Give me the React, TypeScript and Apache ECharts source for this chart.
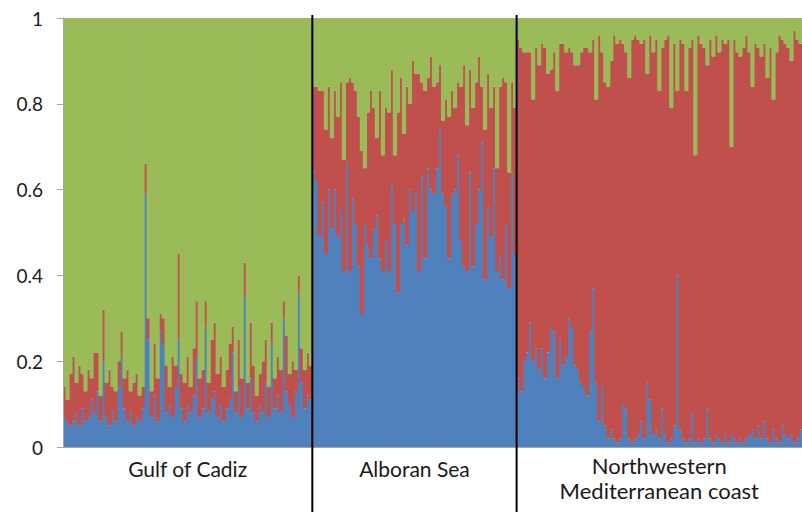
import React, { useEffect, useRef } from "react";
import * as echarts from "echarts";

// Population names (x-axis group labels)
const populations = ["Gulf of Cadiz", "Alboran Sea", "Northwestern\nMediterranean coast"];

// Membership coefficients (percent) per individual; green cluster = remainder
const gulfBlue = [
  7, 6, 5, 6, 8, 5, 9, 6, 7, 11,
  8, 13, 6, 20, 7, 5, 8, 6, 14, 21,
  9, 6, 8, 5, 7, 6, 9, 59, 25, 7,
  12, 6, 27, 24, 8, 10, 7, 14, 25, 9,
  6, 10, 8, 12, 21, 7, 9, 28, 8, 11,
  13, 7, 10, 6, 9, 11, 22, 8, 14, 7,
  35, 9, 16, 8, 6, 10, 8, 15, 7, 24,
  9, 12, 8, 30, 13, 10, 7, 13, 36, 15,
  9, 12, 11,
];
const gulfRed = [
  7, 5, 12, 15, 7, 14, 8, 7, 11, 5,
  14, 9, 6, 12, 8, 13, 6, 7, 6, 6,
  7, 12, 5, 10, 10, 6, 5, 7, 5, 6,
  12, 10, 4, 6, 11, 4, 14, 5, 20, 8,
  9, 11, 6, 11, 13, 9, 9, 6, 7, 14,
  16, 10, 11, 8, 9, 13, 6, 5, 11, 9,
  8, 6, 13, 11, 6, 7, 12, 10, 7, 5,
  7, 9, 10, 4, 13, 7, 13, 5, 4, 8,
  9, 10, 8,
];

const alboranBlue = [
  64, 62, 49, 57, 45, 60, 51, 60, 49, 55,
  41, 66, 41, 58, 52, 42, 31, 52, 47, 44,
  51, 54, 44, 41, 48, 41, 61, 52, 36, 52,
  53, 47, 60, 55, 59, 41, 63, 44, 65, 60,
  59, 65, 74, 59, 56, 44, 59, 60, 68, 48,
  42, 41, 64, 42, 52, 60, 71, 39, 56, 49,
  65, 41, 45, 39, 52, 37, 64, 45,
];
const alboranRed = [
  20, 22, 34, 26, 29, 24, 21, 23, 28, 30,
  26, 19, 45, 27, 31, 35, 38, 13, 31, 39,
  28, 18, 39, 27, 31, 37, 27, 16, 42, 34,
  20, 37, 20, 35, 28, 46, 22, 39, 21, 31,
  25, 20, 15, 17, 25, 33, 24, 19, 17, 36,
  47, 34, 24, 37, 33, 31, 13, 35, 31, 30,
  19, 24, 39, 47, 33, 27, 21, 34,
];

const nwBlue = [
  16, 13, 20, 22, 29, 20, 23, 18, 23, 16,
  22, 28, 27, 16, 25, 19, 21, 30, 28, 19,
  18, 15, 14, 12, 27, 37, 15, 6, 14, 5,
  2, 4, 2, 1, 2, 10, 9, 2, 1, 2,
  3, 6, 2, 15, 11, 3, 4, 2, 9, 3,
  1, 2, 5, 40, 4, 2, 1, 2, 8, 1,
  2, 1, 2, 9, 2, 1, 3, 2, 1, 3,
  1, 3, 2, 1, 2, 1, 2, 3, 4, 2,
  5, 2, 6, 2, 1, 4, 2, 1, 5, 3,
  2, 3, 1, 2, 4,
];
const nwRed = [
  79, 80, 72, 70, 63, 61, 70, 71, 71, 77,
  65, 60, 65, 67, 69, 75, 71, 63, 64, 70,
  71, 77, 79, 81, 65, 58, 66, 90, 78, 80,
  82, 86, 94, 93, 93, 84, 83, 84, 94, 94,
  92, 88, 93, 72, 85, 89, 91, 81, 84, 92,
  95, 77, 89, 43, 91, 92, 82, 91, 87, 67,
  94, 93, 91, 80, 93, 90, 93, 90, 94, 91,
  94, 67, 93, 91, 89, 92, 94, 89, 80, 92,
  88, 89, 88, 84, 92, 77, 90, 95, 90, 91,
  91, 87, 96, 93, 90,
];

const yTicks = [0, 0.2, 0.4, 0.6, 0.8, 1];

const BLUE = "#4F81BD";
const RED = "#C0504D";
const GREEN = "#9BBB59";
const FONT = "Lato, 'Liberation Sans', sans-serif";

export default function App() {
  const ref = useRef<HTMLDivElement>(null);

  useEffect(() => {
    if (!ref.current) return;
    const chart = echarts.init(ref.current, null, { renderer: "svg" });

    const groups = [
      { name: populations[0], blue: gulfBlue, red: gulfRed },
      { name: populations[1], blue: alboranBlue, red: alboranRed },
      { name: populations[2], blue: nwBlue, red: nwRed },
    ];

    const cats: string[] = [];
    const blue: number[] = [];
    const red: number[] = [];
    const green: number[] = [];
    groups.forEach((g, gi) => {
      g.blue.forEach((b, i) => {
        const r = g.red[i];
        cats.push(`p${gi}-${i}`);
        blue.push(b / 100);
        red.push(r / 100);
        green.push(Math.max(0, 100 - b - r) / 100);
      });
    });

    const barSeries = (name: string, data: number[], color: string) => ({
      name,
      type: "bar",
      stack: "q",
      data,
      barWidth: "140%",
      itemStyle: { color },
      emphasis: { disabled: true },
    });

    chart.setOption({
      animation: false,
      grid: { left: 63, right: 0, top: 18, bottom: 65, containLabel: false },
      xAxis: {
        type: "category",
        data: cats,
        z: 10,
        axisLine: { show: true, lineStyle: { color: "#a6a6a6", width: 1 } },
        axisTick: { show: false },
        axisLabel: { show: false },
        splitLine: { show: false },
      },
      yAxis: {
        type: "value",
        z: 10,
        min: yTicks[0],
        max: yTicks[yTicks.length - 1],
        interval: 0.2,
        axisLine: { show: true, lineStyle: { color: "#a6a6a6", width: 1 } },
        axisTick: { show: true, length: 6, lineStyle: { color: "#a6a6a6" } },
        splitLine: { show: false },
        axisLabel: {
          margin: 20,
          fontFamily: FONT,
          fontSize: 19,
          color: "#1a1a1a",
          formatter: (v: number) => String(Math.round(v * 10) / 10),
        },
      },
      series: [
        barSeries("Cluster 1", blue, BLUE),
        barSeries("Cluster 2", red, RED),
        barSeries("Cluster 3", green, GREEN),
      ],
    });

    const px = (i: number) => chart.convertToPixel({ xAxisIndex: 0 }, cats[i]) as number;
    const step = px(1) - px(0);
    const topY = chart.convertToPixel({ yAxisIndex: 0 }, 1) as number;
    const botY = chart.convertToPixel({ yAxisIndex: 0 }, 0) as number;

    const graphics: any[] = [];
    let start = 0;
    groups.forEach((g, gi) => {
      const x0 = px(start) - step / 2;
      const x1 = px(start + g.blue.length - 1) + step / 2;
      const twoLine = g.name.includes("\n");
      graphics.push({
        type: "text",
        x: (x0 + x1) / 2,
        y: twoLine ? botY + 31 : botY + 21.5,
        silent: true,
        style: {
          text: g.name,
          textAlign: "center",
          textVerticalAlign: "middle",
          fontFamily: FONT,
          fontSize: twoLine ? 22 : 21,
          lineHeight: 25,
          fill: "#1a1a1a",
        },
      });
      if (gi > 0) {
        graphics.push({
          type: "line",
          silent: true,
          z: 100,
          shape: { x1: x0, y1: topY - 3, x2: x0, y2: 512 },
          style: { stroke: "#000000", lineWidth: 2 },
        });
      }
      start += g.blue.length;
    });
    chart.setOption({ graphic: graphics });

    return () => chart.dispose();
  }, []);

  return (
    <div
      ref={ref}
      style={{ position: "absolute", left: 0, top: 0, width: 802, height: 512, background: "#ffffff" }}
    />
  );
}
